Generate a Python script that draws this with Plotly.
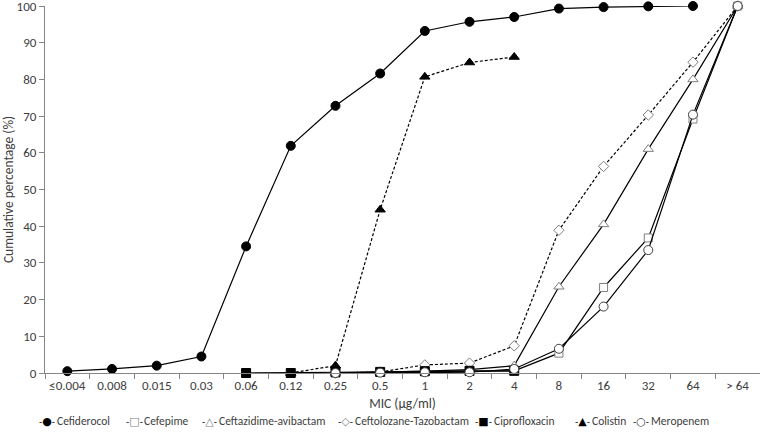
import plotly.graph_objects as go

categories = ["≤0.004", "0.008", "0.015", "0.03", "0.06", "0.12", "0.25", "0.5",
              "1", "2", "4", "8", "16", "32", "64", "> 64"]

cefiderocol = [0.5, 1.1, 2.0, 4.5, 34.5, 61.9, 72.8, 81.6, 93.2, 95.7, 97.0, 99.3, 99.7, 99.9, 100.0, None]
cefepime = [None, None, None, None, None, None, 0.0, 0.2, 0.3, 0.4, 0.6, 5.4, 23.3, 36.8, 69.2, 100.0]
ceftazidime_avibactam = [None, None, None, None, None, None, 0.0, 0.2, 0.5, 0.9, 2.0, 23.5, 40.5, 61.0, 80.0, 100.0]
ceftolozane_tazobactam = [None, None, None, None, None, None, 0.0, 0.3, 2.2, 2.7, 7.4, 38.9, 56.3, 70.3, 84.7, 100.0]
ciprofloxacin = [None, None, None, None, 0.0, 0.0, 0.2, 0.3, 0.5, 0.6, 0.6, None, None, None, None, None]
colistin = [None, None, None, None, None, 0.0, 2.0, 44.5, 80.7, 84.6, 86.1, None, None, None, None, None]
meropenem = [None, None, None, None, None, None, 0.0, 0.1, 0.2, 0.2, 1.1, 6.6, 18.1, 33.5, 70.4, 100.0]

series_names = ["Cefiderocol", "Cefepime", "Ceftazidime-avibactam", "Ceftolozane-Tazobactam",
                "Ciprofloxacin", "Colistin", "Meropenem"]
series_values = [cefiderocol, cefepime, ceftazidime_avibactam, ceftolozane_tazobactam,
                 ciprofloxacin, colistin, meropenem]

styles = [
    # symbol, fill, edge, dash, size, legend glyph, glyph colour
    ("circle", "black", "black", "solid", 9, "●", "black"),
    ("square", "white", "#7f7f7f", "solid", 8, "□", "#7f7f7f"),
    ("triangle-up", "white", "#7f7f7f", "solid", 9, "△", "#7f7f7f"),
    ("diamond", "white", "#7f7f7f", "3px,2px", 8, "◇", "#7f7f7f"),
    ("square", "black", "black", "solid", 9, "■", "black"),
    ("triangle-up", "black", "black", "3px,2px", 9, "▲", "black"),
    ("circle", "white", "#404040", "solid", 9, "○", "#404040"),
]
# legend layout (pixel positions of key centre and label start)
legend_key_x = [47, 134, 209, 345, 484, 582, 641]
legend_text_x = [55, 142, 217, 353, 492, 590, 649]

L, R, T, B = 45, 0, 6, 63
W, H = 760, 436
PW, PH = W - L - R, H - T - B

fig = go.Figure()
for name, vals, (sym, fill, edge, dash, size, glyph, gcol) in zip(series_names, series_values, styles):
    fig.add_trace(go.Scatter(
        x=categories, y=vals, name=name, mode="lines+markers",
        connectgaps=False, cliponaxis=False, showlegend=False,
        line=dict(color="black", width=1.2, dash=dash),
        marker=dict(symbol=sym, size=size, color=fill, line=dict(color=edge, width=1)),
    ))

txt = "#404040"
font_family = "Carlito, Lato, sans-serif"
ly = -(421 - (H - B)) / PH
annotations = []
for name, (sym, fill, edge, dash, size, glyph, gcol), kx, tx in zip(series_names, styles, legend_key_x, legend_text_x):
    annotations.append(dict(
        xref="paper", yref="paper", x=(kx - L) / PW, y=ly,
        xanchor="center", yanchor="middle", showarrow=False,
        text=f"<span style='color:black;font-size:9px'>-</span><span style='color:{gcol}'>{glyph}</span><span style='color:black;font-size:9px'>-</span>",
        font=dict(family="DejaVu Sans", size=11, color="black"),
    ))
    annotations.append(dict(
        xref="paper", yref="paper", x=(tx - L) / PW, y=ly,
        xanchor="left", yanchor="middle", showarrow=False,
        text=name, font=dict(family=font_family, size=11.5, color=txt),
    ))

fig.update_layout(
    width=W, height=H,
    margin=dict(l=L, r=R, t=T, b=B, autoexpand=False),
    plot_bgcolor="white", paper_bgcolor="white",
    font=dict(family=font_family, size=13, color=txt),
    showlegend=False,
    annotations=annotations,
    xaxis=dict(
        type="category", categoryorder="array", categoryarray=categories,
        range=[-0.5, 15.5], showgrid=False, showline=True, linecolor="#868686",
        linewidth=1, ticks="outside", ticklen=5, tickcolor="#868686", tickangle=0,
        tickson="boundaries", tickfont=dict(size=13, color=txt), automargin=False,
        title=dict(text="MIC (µg/ml)", font=dict(size=13.5, color=txt), standoff=6),
        zeroline=False,
    ),
    yaxis=dict(
        range=[0, 100], dtick=10, showgrid=False, showline=True, linecolor="#868686",
        linewidth=1, ticks="outside", ticklen=5, tickcolor="#868686",
        tickfont=dict(size=13, color=txt), automargin=False, ticklabeloverflow="allow",
        title=dict(text="Cumulative percentage (%)", font=dict(size=13.5, color=txt), standoff=0),
        zeroline=False,
    ),
)

fig.write_html("out.html", config={"displayModeBar": False},
               post_script="document.body.style.margin='0';document.body.style.overflow='hidden';")
